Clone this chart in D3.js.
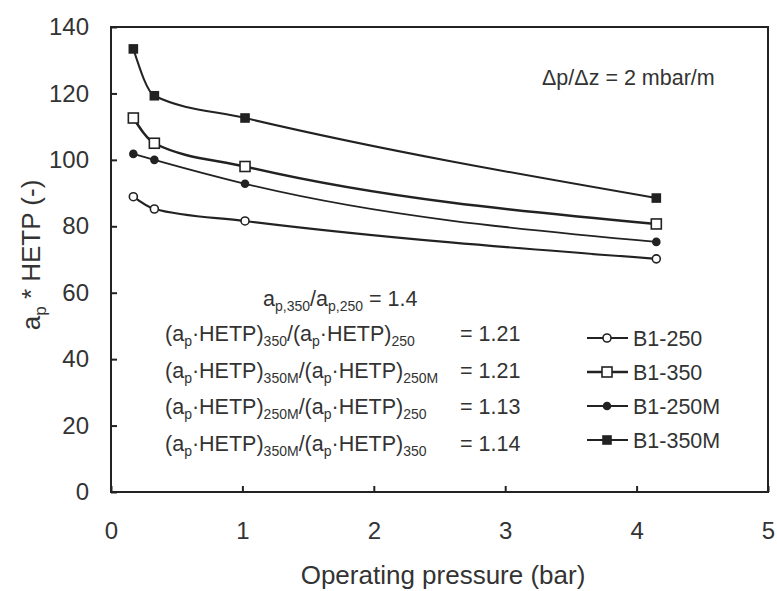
<!DOCTYPE html>
<html>
<head>
<meta charset="utf-8">
<script src="https://cdn.jsdelivr.net/npm/d3@7"></script>
<style>
  body { margin: 0; background: #fff; }
  svg { font-family: "Liberation Sans", Arial, sans-serif; }
  .axis text { fill: #333; font-size: 24px; }
  .axis line { stroke: #222; stroke-width: 2; }
  .note { fill: #333; font-size: 21.5px; }
</style>
</head>
<body>
<svg id="chart" width="777" height="591"></svg>
<script>
// operating pressure (bar), same for every series
const pressure = [0.17, 0.33, 1.02, 4.15];

const b1_250 = [88.9, 85.2, 81.6, 70.2];
const b1_350 = [112.6, 105.0, 98.0, 80.7];
const b1_250M = [101.8, 100.0, 92.8, 75.3];
const b1_350M = [133.4, 119.3, 112.6, 88.5];

const seriesNames = ['B1-250', 'B1-350', 'B1-250M', 'B1-350M'];
const xTicks = [0, 1, 2, 3, 4, 5];
const yTicks = [0, 20, 40, 60, 80, 100, 120, 140];

const ratioLines = [
  { num: '350', den: '250', value: '1.21' },
  { num: '350M', den: '250M', value: '1.21' },
  { num: '250M', den: '250', value: '1.13' },
  { num: '350M', den: '350', value: '1.14' },
];

const series = [
  { name: seriesNames[0], values: b1_250, marker: 'circle', filled: false, size: 4, width: 2.2 },
  { name: seriesNames[1], values: b1_350, marker: 'square', filled: false, size: 10, width: 2.5 },
  { name: seriesNames[2], values: b1_250M, marker: 'circle', filled: true, size: 3.5, width: 1.8 },
  { name: seriesNames[3], values: b1_350M, marker: 'square', filled: true, size: 8, width: 2 },
];

const ink = '#222';
const svg = d3.select('#chart');

const x = d3.scaleLinear().domain([0, 5]).range([111, 768]);
const y = d3.scaleLinear().domain([0, 140]).range([492, 27]);

// frame
svg.append('rect')
  .attr('x', x(0)).attr('y', y(140))
  .attr('width', x(5) - x(0)).attr('height', y(0) - y(140))
  .attr('fill', 'none').attr('stroke', ink).attr('stroke-width', 2);

const xAxis = d3.axisBottom(x).tickValues(xTicks).tickFormat(d3.format('d'))
  .tickSizeInner(-6).tickSizeOuter(0).tickPadding(30);
const yAxis = d3.axisLeft(y).tickValues(yTicks).tickFormat(d3.format('d'))
  .tickSizeInner(-6).tickSizeOuter(0).tickPadding(22);

const gX = svg.append('g').attr('class', 'axis')
  .attr('transform', `translate(0,${y(0)})`).call(xAxis);
const gY = svg.append('g').attr('class', 'axis')
  .attr('transform', `translate(${x(0)},0)`).call(yAxis);
gX.select('.domain').remove();
gY.select('.domain').remove();
gX.selectAll('text').attr('font-family', null).attr('font-size', null);
gY.selectAll('text').attr('font-family', null).attr('font-size', null);

// axis titles
svg.append('text')
  .attr('x', 443).attr('y', 584)
  .attr('text-anchor', 'middle')
  .attr('fill', '#333').attr('font-size', 26)
  .text('Operating pressure (bar)');

const yTitle = svg.append('text')
  .attr('transform', 'translate(40,255) rotate(-90)')
  .attr('text-anchor', 'middle')
  .attr('fill', '#333').attr('font-size', 26);
yTitle.append('tspan').text('a');
yTitle.append('tspan').attr('font-size', 17).attr('dy', 6).text('p');
yTitle.append('tspan').attr('dy', -6).text(' * HETP (-)');

// lines
const line = d3.line()
  .x((d, i) => x(pressure[i]))
  .y(d => y(d))
  .curve(d3.curveMonotoneX);

const drawMarker = (g, s, cx, cy) => {
  if (s.marker === 'circle') {
    g.append('circle')
      .attr('cx', cx).attr('cy', cy).attr('r', s.size)
      .attr('fill', s.filled ? ink : '#fff')
      .attr('stroke', ink).attr('stroke-width', 1.6);
  } else {
    g.append('rect')
      .attr('x', cx - s.size / 2).attr('y', cy - s.size / 2)
      .attr('width', s.size).attr('height', s.size)
      .attr('fill', s.filled ? ink : '#fff')
      .attr('stroke', ink).attr('stroke-width', 1.6);
  }
};

series.forEach((s) => {
  svg.append('path')
    .datum(s.values)
    .attr('fill', 'none')
    .attr('stroke', ink)
    .attr('stroke-width', s.width)
    .attr('d', line);
  const g = svg.append('g');
  s.values.forEach((v, i) => drawMarker(g, s, x(pressure[i]), y(v)));
});

// legend
const legend = svg.append('g');
series.forEach((s, i) => {
  const ly = 338 + i * 34;
  legend.append('line')
    .attr('x1', 587).attr('x2', 628).attr('y1', ly).attr('y2', ly)
    .attr('stroke', ink).attr('stroke-width', s.width);
  drawMarker(legend, s, 607, ly);
  legend.append('text')
    .attr('class', 'note')
    .attr('x', 633).attr('y', ly + 8)
    .text(s.name);
});

// annotations
svg.append('text').attr('class', 'note')
  .attr('x', 542).attr('y', 85)
  .text('\u0394p/\u0394z = 2 mbar/m');

const ratioTop = svg.append('text').attr('class', 'note')
  .attr('x', 263).attr('y', 306).attr('font-size', 22);
ratioTop.append('tspan').text('a');
ratioTop.append('tspan').attr('font-size', 14).attr('dy', 5).text('p,350');
ratioTop.append('tspan').attr('dy', -5).text('/a');
ratioTop.append('tspan').attr('font-size', 14).attr('dy', 5).text('p,250');
ratioTop.append('tspan').attr('dy', -5).text(' = 1.4');

ratioLines.forEach((r, i) => {
  const ty = 341 + i * 36.5;
  const t = svg.append('text').attr('class', 'note').attr('x', 165).attr('y', ty);
  t.append('tspan').text('(a');
  t.append('tspan').attr('font-size', 14).attr('dy', 5).text('p');
  t.append('tspan').attr('dy', -5).text('\u00b7HETP)');
  t.append('tspan').attr('font-size', 14).attr('dy', 5).text(r.num);
  t.append('tspan').attr('dy', -5).text('/(a');
  t.append('tspan').attr('font-size', 14).attr('dy', 5).text('p');
  t.append('tspan').attr('dy', -5).text('\u00b7HETP)');
  t.append('tspan').attr('font-size', 14).attr('dy', 5).text(r.den);
  svg.append('text').attr('class', 'note')
    .attr('x', 460).attr('y', ty)
    .text('= ' + r.value);
});
</script>
</body>
</html>
